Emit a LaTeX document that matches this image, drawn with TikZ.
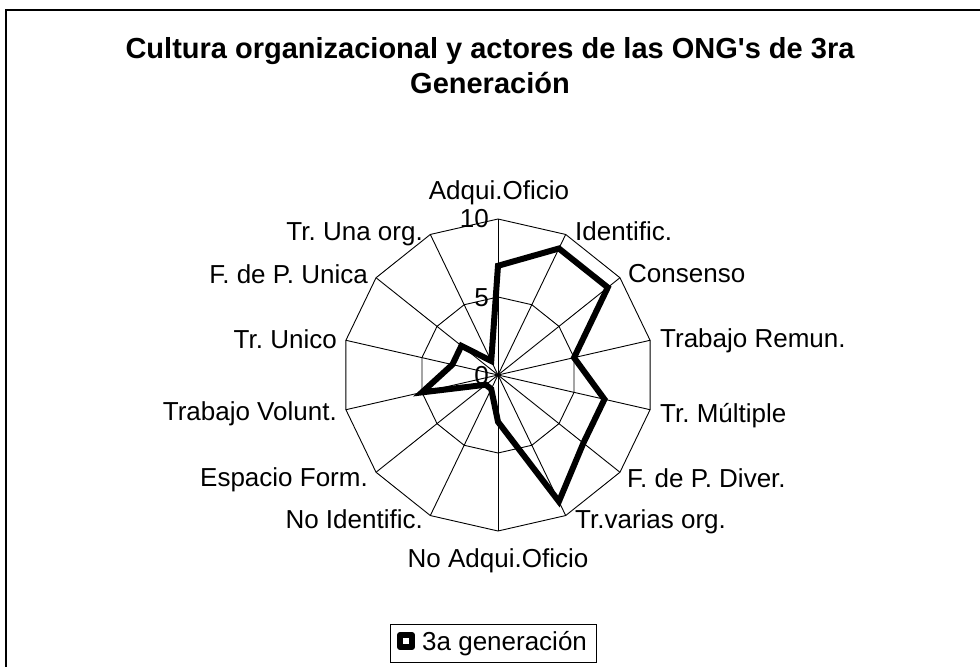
\documentclass[tikz,border=0pt]{standalone}
\usepackage{fontspec}
\setmainfont{Liberation Sans}
\frenchspacing
\usetikzlibrary{calc}

\begin{document}
\begin{tikzpicture}[x=1pt, y=1pt,
        grid/.style = {draw=black, line width=0.9pt},
        series/.style = {draw=black, line width=6pt, line join=miter},
        lbl/.style = {inner sep=0pt, font=\fontsize{26}{30}\selectfont},
        tick/.style = {lbl, anchor=base east} ]

\useasboundingbox (-498,-292) rectangle (482,375);
% chart frame (right and bottom edges fall outside)
\draw[line width=1.3pt] (482,365) -- (-492,365) -- (-492,-292);

\node (title) [anchor=north, inner sep=0pt, align=center,
               font=\fontsize{29}{35}\selectfont\bfseries] at (-8,338)
  {Cultura organizacional y actores de las ONG\textquotesingle s de 3ra\\Generación};

% radar grid
\coordinate (O) at (0,0);
\foreach \k in {0,...,13} {
  \coordinate (s\k) at ({90-\k*360/14}:156);
  \coordinate (h\k) at ({90-\k*360/14}:78);
  \draw[grid] (O) -- (s\k);
}
\draw[grid] (s0) \foreach \k in {1,...,13} {-- (s\k)} -- cycle;
\draw[grid] (h0) \foreach \k in {1,...,13} {-- (h\k)} -- cycle;

% data series
\foreach \v [count=\k from 0] in {7,9,9,5,7,7,9,3,1,1,5,3,3,1}
  \coordinate (d\k) at ({90-\k*360/14}:{\v*15.6});
\draw[series] (d0) \foreach \k in {1,...,13} {-- (d\k)} -- cycle;

\node (t0)  [tick] at (-9,-9)  {0};
\node (t5)  [tick] at (-9,69)  {5};
\node (t10) [tick] at (-9,147) {10};

% axis labels
\foreach \k/\anc/\px/\py/\txt in {
    0/base/1/175/Adqui.Oficio,
    1/base west/77/135/Identific.,
    2/base west/130/93/Consenso,
    3/base west/162/28/Trabajo Remun.,
    4/base west/162/-47/Tr. Múltiple,
    5/base west/129/-112/F. de P. Diver.,
    6/base west/77/-153/Tr.varias org.,
    7/base/0/-192/No Adqui.Oficio,
    8/base east/-75/-153/No Identific.,
    9/base east/-130/-111/Espacio Form.,
    10/base east/-161/-45/Trabajo Volunt.,
    11/base east/-161/27/Tr. Unico,
    12/base east/-130/92/F. de P. Unica,
    13/base east/-75/135/Tr. Una org.}
  \node (l\k) [lbl, anchor=\anc] at (\px,\py) {\txt};

% legend
\node (legend) [draw, line width=0.9pt, anchor=south west, inner sep=0pt,
                minimum width=206pt, minimum height=38pt] at (-108,-288) {};
\draw[line width=6pt, line join=round] (-98,-272) rectangle (-86,-260);
\node (legtext) [lbl, anchor=base west] at (-76,-275) {3a generación};
\end{tikzpicture}
\end{document}
